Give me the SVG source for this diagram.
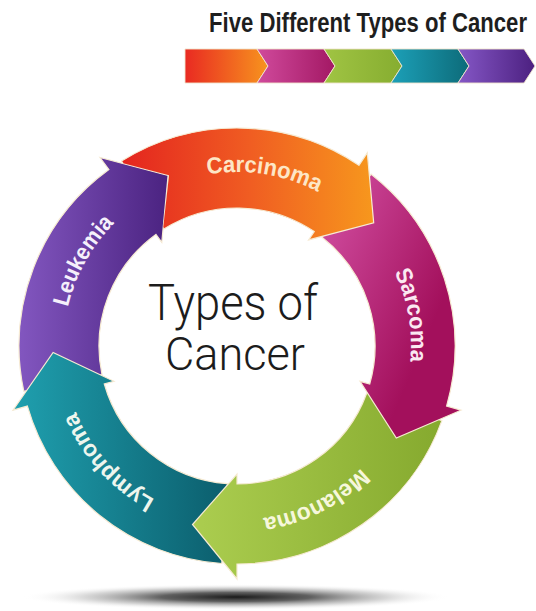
<svg xmlns="http://www.w3.org/2000/svg" width="536" height="611" viewBox="0 0 536 611">
<defs>
<style>
.seg{stroke:#f6ead2;stroke-width:1.2;stroke-linejoin:miter}
.bar{stroke:#efe3cc;stroke-width:0.9}
.lbl{font-family:"Liberation Sans",Arial,sans-serif;font-weight:bold;font-size:23px}
.ctr{font-family:Roboto,"Liberation Sans",Arial,sans-serif;font-weight:300;fill:#1c1c1c}
.ttl{font-family:"Liberation Sans",Arial,sans-serif;font-weight:bold;font-size:27px;fill:#1e1e1e}
</style>
<linearGradient id="gC" gradientUnits="userSpaceOnUse" x1="125" y1="0" x2="375" y2="0"><stop offset="0" stop-color="#e4261f"/><stop offset="0.5" stop-color="#f05d22"/><stop offset="1" stop-color="#f7981d"/></linearGradient>
<linearGradient id="gS" gradientUnits="userSpaceOnUse" x1="320" y1="200" x2="460" y2="260"><stop offset="0" stop-color="#d24fa2"/><stop offset="1" stop-color="#a3105c"/></linearGradient>
<linearGradient id="gM" gradientUnits="userSpaceOnUse" x1="195" y1="0" x2="445" y2="0"><stop offset="0" stop-color="#abcd4f"/><stop offset="1" stop-color="#85a92e"/></linearGradient>
<linearGradient id="gL" gradientUnits="userSpaceOnUse" x1="15" y1="0" x2="230" y2="0"><stop offset="0" stop-color="#1f9fae"/><stop offset="1" stop-color="#0b5d6c"/></linearGradient>
<linearGradient id="gK" gradientUnits="userSpaceOnUse" x1="20" y1="0" x2="170" y2="0"><stop offset="0" stop-color="#8256bf"/><stop offset="1" stop-color="#4a2280"/></linearGradient>
<linearGradient id="b1" x1="0" y1="0" x2="1" y2="0"><stop offset="0" stop-color="#e92a22"/><stop offset="1" stop-color="#f7941e"/></linearGradient>
<linearGradient id="b2" x1="0" y1="0" x2="1" y2="0"><stop offset="0" stop-color="#d04a9c"/><stop offset="1" stop-color="#a31864"/></linearGradient>
<linearGradient id="b3" x1="0" y1="0" x2="1" y2="0"><stop offset="0" stop-color="#a0c443"/><stop offset="1" stop-color="#86ad30"/></linearGradient>
<linearGradient id="b4" x1="0" y1="0" x2="1" y2="0"><stop offset="0" stop-color="#1ca0b8"/><stop offset="1" stop-color="#0d6b79"/></linearGradient>
<linearGradient id="b5" x1="0" y1="0" x2="1" y2="0"><stop offset="0" stop-color="#8557c6"/><stop offset="1" stop-color="#4c2080"/></linearGradient>
<radialGradient id="gSh" cx="0.5" cy="0.5" r="0.5"><stop offset="0" stop-color="#1a1a1a"/><stop offset="0.35" stop-color="#444" stop-opacity="0.85"/><stop offset="0.7" stop-color="#999" stop-opacity="0.4"/><stop offset="1" stop-color="#fff" stop-opacity="0"/></radialGradient>
<clipPath id="clipC"><path clip-rule="evenodd" d="M0,0H536V611H0Z M99.3,157 L169,175.2 L161.5,243.3 Z"/></clipPath>
<path id="pC" d="M147.4,196.8 A174,174 0 0 1 368.3,231.8"/>
<path id="pS" d="M348.8,212.7 A174,174 0 0 1 387.7,433"/>
<path id="pM" d="M397.2,414 A174,174 0 0 1 197.9,515.5"/>
<path id="pL" d="M212.8,518.3 A174,174 0 0 1 63.1,352.1"/>
<path id="pK" d="M66.2,379.2 A176,176 0 0 1 174.6,183.6"/>
</defs>
<rect width="536" height="611" fill="#fff"/>
<g id="title"><text class="ttl" transform="translate(209,32) scale(0.75,1)" x="0" y="0" textLength="424" lengthAdjust="spacingAndGlyphs">Five Different Types of Cancer</text></g>
<g id="legend-bar">
<path class="bar" fill="url(#b1)" d="M185,49 L257,49 L268,66 L257,83 L185,83 Z"/>
<path class="bar" fill="url(#b2)" d="M257,49 L324,49 L335,66 L324,83 L257,83 L268,66 Z"/>
<path class="bar" fill="url(#b3)" d="M324,49 L391,49 L402,66 L391,83 L324,83 L335,66 Z"/>
<path class="bar" fill="url(#b4)" d="M391,49 L458,49 L469,66 L458,83 L391,83 L402,66 Z"/>
<path class="bar" fill="url(#b5)" d="M458,49 L524,49 L535,66 L524,83 L458,83 L469,66 Z"/>
</g>
<g id="shadow"><ellipse cx="236" cy="597" rx="214" ry="13" fill="url(#gSh)"/></g>
<g id="leukemia">
<path class="seg" fill="url(#gK)" d="M23.8,391.3 A218,218 0 0 1 108.9,169.6 L100,157.5 L168.1,175.4 L161.8,242.4 L155.9,234.4 A138,138 0 0 0 102,374.7 Z"/>
<text class="lbl" fill="#f5f0fb"><textPath href="#pK" startOffset="50%" text-anchor="middle" textLength="97" lengthAdjust="spacingAndGlyphs">Leukemia</textPath></text>
</g>
<g id="lymphoma">
<path class="seg" fill="url(#gL)" d="M221.8,563.5 A218,218 0 0 1 27.4,406.1 L13,410.2 L53.1,352.4 L114,381.3 L104.3,384 A138,138 0 0 0 227.4,483.7 Z"/>
<text class="lbl" fill="#eef6ee"><textPath href="#pL" startOffset="50%" text-anchor="middle" textLength="120" lengthAdjust="spacingAndGlyphs">Lymphoma</textPath></text>
</g>
<g id="melanoma">
<path class="seg" fill="url(#gM)" d="M441.9,420.6 A218,218 0 0 1 237,564 L237,579 L192.5,524.5 L237,474 L237,484 A138,138 0 0 0 366.7,393.2 Z"/>
<text class="lbl" fill="#f6f7dc"><textPath href="#pM" startOffset="50%" text-anchor="middle" textLength="112" lengthAdjust="spacingAndGlyphs">Melanoma</textPath></text>
</g>
<g id="sarcoma">
<path class="seg" fill="url(#gS)" d="M371.2,174.2 A218,218 0 0 1 446.6,406.1 L461,410.2 L396.3,438 L360,381.3 L369.7,384 A138,138 0 0 0 322,237.3 Z"/>
<text class="lbl" fill="#fbe8f2"><textPath href="#pS" startOffset="50%" text-anchor="middle" textLength="92" lengthAdjust="spacingAndGlyphs">Sarcoma</textPath></text>
</g>
<g id="carcinoma" clip-path="url(#clipC)">
<path class="seg" fill="url(#gC)" d="M121.5,161.1 A218,218 0 0 1 358.9,165.3 L367.3,152.8 L373.7,222.9 L308.6,239.9 L314.2,231.6 A138,138 0 0 0 163.9,229 Z"/>
<text class="lbl" fill="#fde6c6"><textPath href="#pC" startOffset="50%" text-anchor="middle" textLength="114" lengthAdjust="spacingAndGlyphs">Carcinoma</textPath></text>
</g>
<g id="center-title">
<text class="ctr" x="148" y="320" font-size="50" textLength="170" lengthAdjust="spacingAndGlyphs">Types of</text>
<text class="ctr" x="165" y="370" font-size="46" textLength="140" lengthAdjust="spacingAndGlyphs">Cancer</text>
</g>
</svg>
